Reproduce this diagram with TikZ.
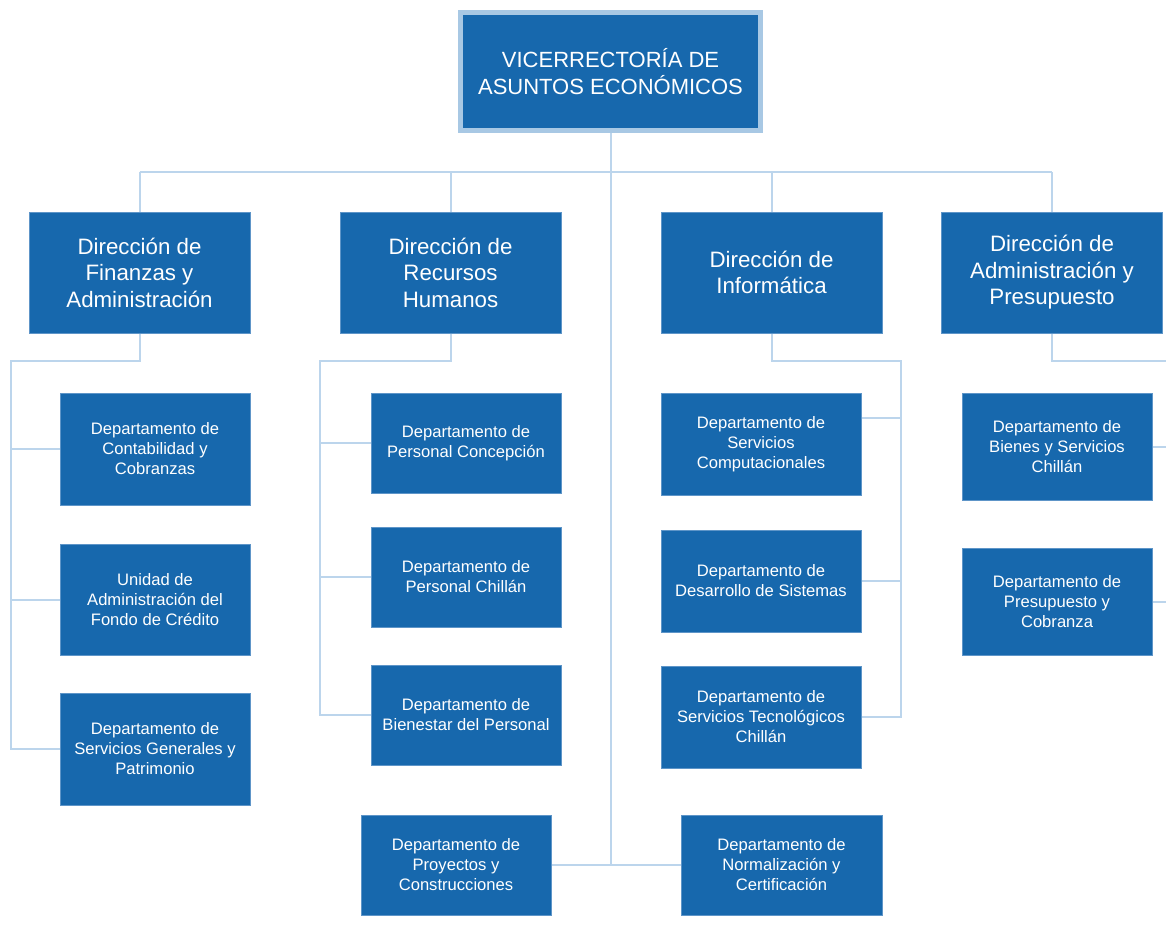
\documentclass[tikz,border=0pt]{standalone}
\usepackage{fontspec}
\setmainfont{Liberation Sans}
\usetikzlibrary{backgrounds}
\definecolor{boxblue}{HTML}{1768AD}
\definecolor{boxedge}{HTML}{5E95C8}
\definecolor{linkblue}{HTML}{BCD5EC}
\definecolor{topedge}{HTML}{A8C8E4}
\begin{document}
\begin{tikzpicture}[x=1pt,y=-1pt,
  base/.style={rectangle, fill=boxblue, text=white, align=center, inner sep=0pt},
  topbox/.style={base, draw=topedge, line width=5pt, minimum width=300pt, minimum height=118pt,
     font=\fontsize{22}{27}\selectfont},
  dirbox/.style={base, draw=boxedge, line width=0.8pt, minimum width=221pt, minimum height=121pt,
     font=\fontsize{22.3}{26.5}\selectfont},
  depbox/.style={base, draw=boxedge, line width=0.6pt, minimum width=190pt,
     font=\fontsize{16.6}{20}\selectfont},
  link/.style={draw=linkblue, line width=2pt}]
\useasboundingbox (0,0) rectangle (1166,939);

% top
\node[topbox] (top) at (610.5,71.5) {VICERRECTORÍA DE\\ASUNTOS ECONÓMICOS};

% directions
\node[dirbox] (d1) at (139.5,272.5) {Dirección de\\Finanzas y\\Administración};
\node[dirbox] (d2) at (450.5,272.5) {Dirección de\\Recursos\\Humanos};
\node[dirbox] (d3) at (771.5,272.5) {Dirección de\\Informática};
\node[dirbox] (d4) at (1052,272.5) {Dirección de\\Administración y\\Presupuesto};

% column 1
\node[depbox, minimum height=112pt] (s11) at (155,449) {Departamento de\\Contabilidad y\\Cobranzas};
\node[depbox, minimum height=111pt] (s12) at (155,599.5) {Unidad de\\Administración del\\Fondo de Crédito};
\node[depbox, minimum height=112pt] (s13) at (155,749) {Departamento de\\Servicios Generales y\\Patrimonio};

% column 2
\node[depbox, minimum height=100pt] (s21) at (466,443) {Departamento de\\Personal Concepción};
\node[depbox, minimum height=100pt] (s22) at (466,577) {Departamento de\\Personal Chillán};
\node[depbox, minimum height=100pt] (s23) at (466,715) {Departamento de\\Bienestar del Personal};

% column 3
\node[depbox, minimum width=200pt, minimum height=102pt] (s31) at (761,444) {Departamento de\\Servicios\\Computacionales};
\node[depbox, minimum width=200pt, minimum height=102pt] (s32) at (761,581) {Departamento de\\Desarrollo de Sistemas};
\node[depbox, minimum width=200pt, minimum height=102pt] (s33) at (761,717) {Departamento de\\Servicios Tecnológicos\\Chillán};

% column 4
\node[depbox, minimum height=107pt] (s41) at (1057,446.5) {Departamento de\\Bienes y Servicios\\Chillán};
\node[depbox, minimum height=107pt] (s42) at (1057,601.5) {Departamento de\\Presupuesto y\\Cobranza};

% bottom
\node[depbox, minimum height=100pt] (p1) at (456,865) {Departamento de\\Proyectos y\\Construcciones};
\node[depbox, minimum width=201pt, minimum height=100pt] (n1) at (781.5,865) {Departamento de\\Normalización y\\Certificación};

% connectors
\coordinate (bus) at (611,172);
\coordinate (c1) at (11,361);
\coordinate (c2) at (320,361);
\coordinate (c3) at (901,361);
\coordinate (c4) at (1166,361);
\coordinate (s31b) at ([yshift=26pt]s31.east);
\begin{scope}[on background layer]
\fill[white] (0,0) rectangle (1166,939);
\draw[link] (top.south) -- (top.south |- p1.east);
\draw[link] (d1.north |- bus) -- (d4.north |- bus);
\draw[link] (d1.north) -- (d1.north |- bus);
\draw[link] (d2.north) -- (d2.north |- bus);
\draw[link] (d3.north) -- (d3.north |- bus);
\draw[link] (d4.north) -- (d4.north |- bus);
\draw[link] (p1.east) -- (n1.west);

\draw[link] (d1.south) -- (d1.south |- c1) -- (c1) -- (c1 |- s13.west) -- (s13.west);
\draw[link] (c1 |- s11.west) -- (s11.west);
\draw[link] (c1 |- s12.west) -- (s12.west);

\draw[link] (d2.south) -- (d2.south |- c2) -- (c2) -- (c2 |- s23.west) -- (s23.west);
\draw[link] (c2 |- s21.west) -- (s21.west);
\draw[link] (c2 |- s22.west) -- (s22.west);

\draw[link] (d3.south) -- (d3.south |- c3) -- (c3) -- (c3 |- s33.east) -- (s33.east);
\draw[link] (c3 |- s31b) -- (s31b);
\draw[link] (c3 |- s32.east) -- (s32.east);

\draw[link] (d4.south) -- (d4.south |- c4) -- (c4);
\draw[link] (s41.east) -- (c4 |- s41.east);
\draw[link] (s42.east) -- (c4 |- s42.east);
\end{scope}
\end{tikzpicture}
\end{document}
